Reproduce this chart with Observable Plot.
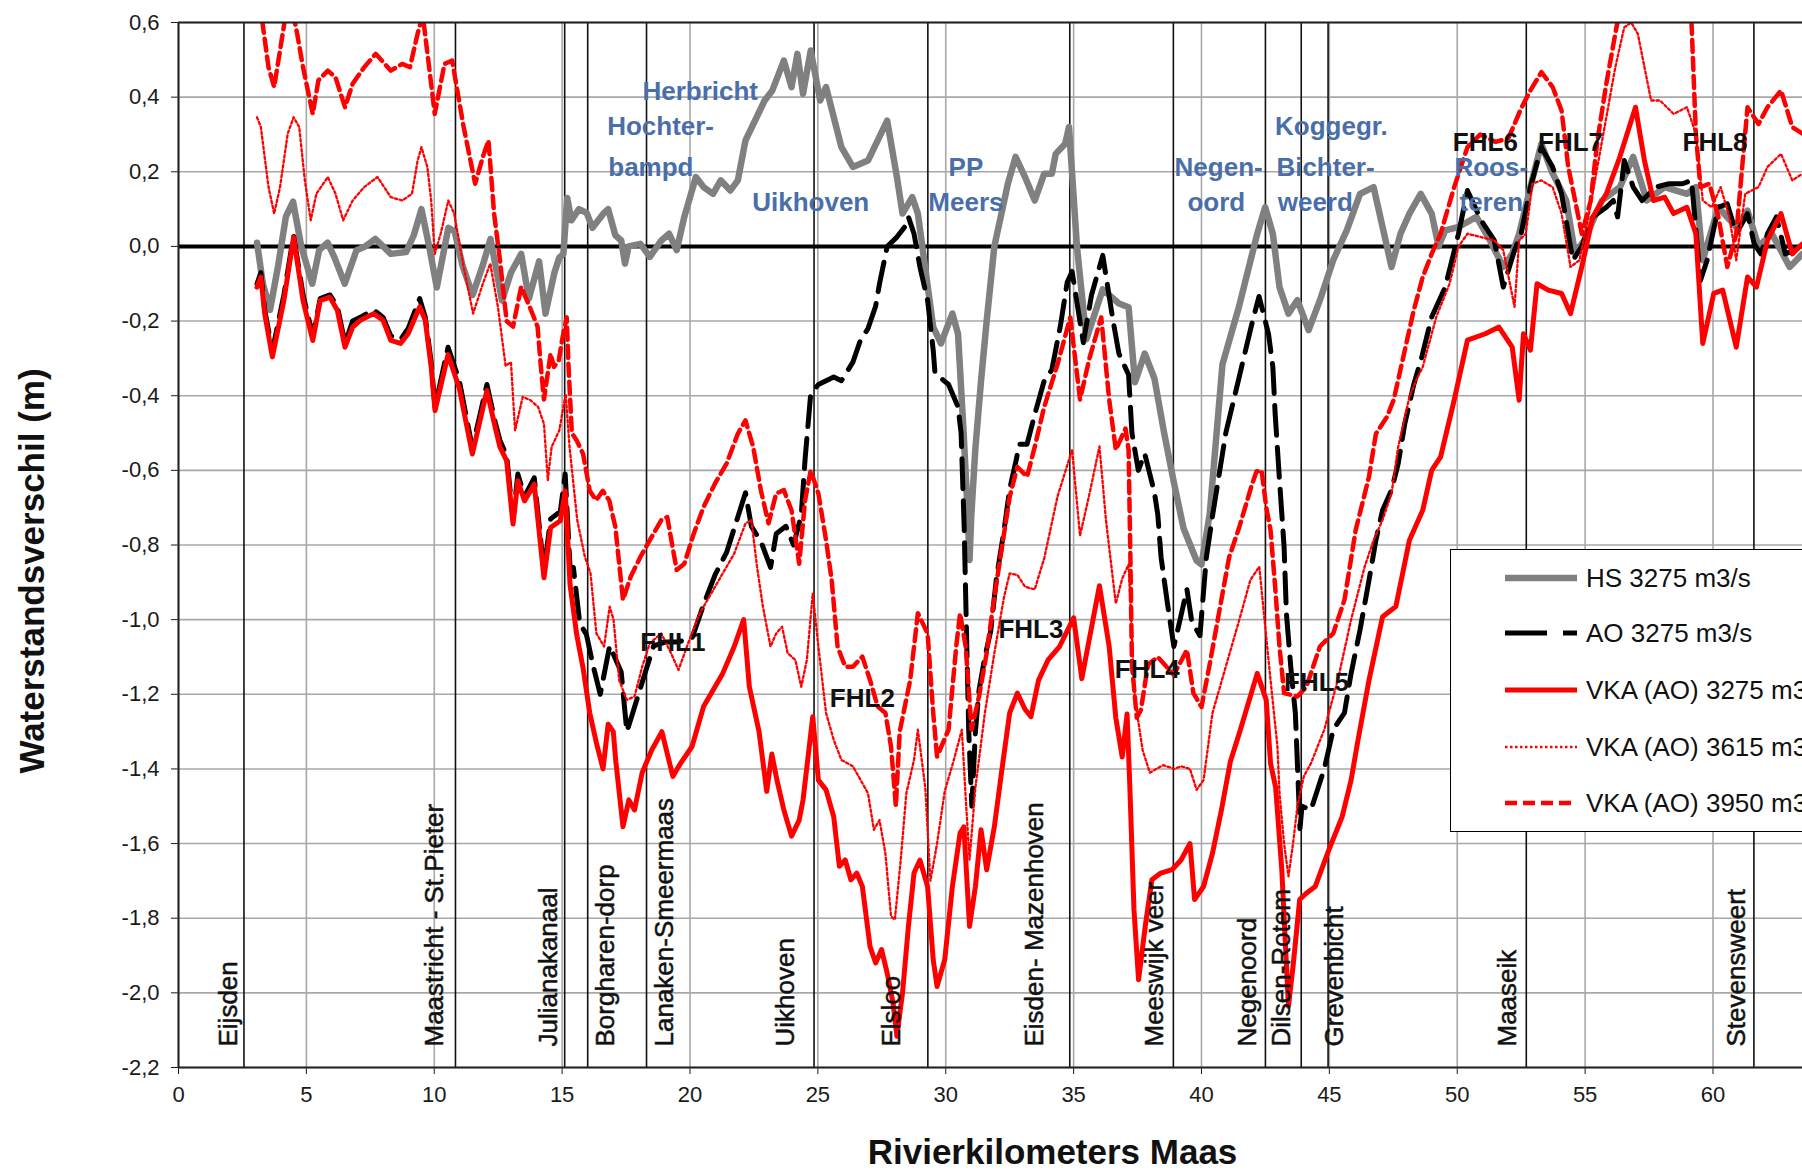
<!DOCTYPE html>
<html><head><meta charset="utf-8">
<script src="https://cdn.jsdelivr.net/npm/d3@7"></script>
<script src="https://cdn.jsdelivr.net/npm/@observablehq/plot@0.6"></script>
<style>
html,body{margin:0;padding:0;background:#fff;overflow:hidden;}
#wrap{position:relative;width:1802px;height:1170px;overflow:hidden;}
#legend{position:absolute;left:1450px;top:549px;width:420px;height:281px;border:1.5px solid #000;background:#fff;font-family:"Liberation Sans",Arial,sans-serif;font-size:26px;color:#111;}
.row{position:absolute;left:0;height:40px;display:flex;align-items:center;white-space:nowrap;}
.row svg{margin-left:52px;margin-right:7px;}
</style></head><body><div id="wrap"><div id="legend"></div></div>
<script>
// ---------- DATA ----------
const seriesNames = ["HS 3275 m3/s", "AO 3275 m3/s", "VKA (AO) 3275 m3/s", "VKA (AO) 3615 m3/s", "VKA (AO) 3950 m3/s"];

const hsKm = [3.07,3.3,3.58,3.9,4.2,4.48,4.8,5.23,5.5,5.83,6.1,6.5,6.96,7.3,7.7,8.0,8.3,8.9,9.2,9.5,9.8,10.1,10.55,10.8,11.1,11.5,11.9,12.2,12.65,13.0,13.4,13.7,14.1,14.35,14.7,14.89,15.05,15.2,15.36,15.66,15.96,16.19,16.64,16.8,17.08,17.31,17.46,17.6,18.06,18.43,18.88,19.18,19.48,19.78,20.23,20.53,20.9,21.2,21.58,21.87,22.17,22.92,23.22,23.67,23.97,24.2,24.42,24.72,25.09,25.32,25.92,26.37,26.96,27.34,27.71,28.09,28.31,28.69,28.91,29.51,29.81,30.26,30.48,30.7,30.86,30.93,31.0,31.16,31.38,31.6,31.9,32.43,32.73,33.1,33.48,33.85,34.15,34.3,34.67,34.82,35.13,35.5,36.14,36.77,37.15,37.4,37.78,38.16,38.54,38.92,39.3,39.81,40.0,40.32,40.82,41.46,42.18,42.49,42.79,43.05,43.4,43.75,44.19,44.63,45.15,45.68,46.2,46.73,47.08,47.43,47.78,48.13,48.57,49.0,49.27,49.53,50.05,50.75,51.28,51.8,52.15,52.42,52.86,53.29,53.7,54.26,54.61,54.96,55.66,56.36,56.88,57.41,58.11,58.98,59.33,59.6,60.21,60.91,61.35,61.78,62.3,63.0,63.5];
const hsVal = [0.01,-0.10,-0.17,-0.05,0.08,0.12,0.0,-0.10,-0.01,0.01,-0.03,-0.10,-0.01,0.0,0.02,0.0,-0.02,-0.015,0.03,0.10,0.0,-0.11,0.05,0.04,-0.05,-0.13,-0.05,0.02,-0.145,-0.07,-0.02,-0.14,-0.04,-0.18,-0.07,-0.03,-0.02,0.13,0.07,0.10,0.09,0.05,0.09,0.10,0.03,0.016,-0.046,0.0,0.007,-0.028,0.016,0.034,-0.01,0.08,0.186,0.159,0.141,0.177,0.15,0.177,0.284,0.391,0.418,0.498,0.427,0.516,0.409,0.525,0.391,0.427,0.266,0.213,0.23,0.284,0.337,0.186,0.088,0.132,0.088,-0.216,-0.26,-0.18,-0.234,-0.5,-0.72,-0.84,-0.72,-0.54,-0.36,-0.2,0.0,0.168,0.24,0.186,0.123,0.195,0.195,0.248,0.275,0.32,0.0,-0.249,-0.115,-0.153,-0.163,-0.364,-0.287,-0.354,-0.5,-0.632,-0.756,-0.842,-0.852,-0.718,-0.316,-0.163,0.034,0.105,0.034,-0.109,-0.18,-0.144,-0.224,-0.144,-0.037,0.043,0.141,0.159,0.052,-0.055,0.034,0.088,0.141,0.088,0.0,0.043,0.052,0.079,0.016,-0.055,-0.02,0.034,0.159,0.275,0.2,0.123,-0.02,0.016,0.123,0.159,0.24,0.123,0.159,0.141,0.159,-0.037,0.105,0.052,0.096,0.0,0.034,-0.055,-0.02];

const aoKm = [3.07,3.22,3.37,3.67,4.12,4.5,4.87,5.25,5.54,5.92,6.21,6.51,6.81,7.11,7.63,8.0,8.3,8.68,8.98,9.43,9.65,9.88,10.03,10.54,10.98,11.49,12.06,12.38,12.57,12.83,13.08,13.27,13.53,13.91,14.29,14.55,14.93,15.12,15.31,15.44,15.69,15.95,16.2,16.49,16.86,17.31,17.53,17.76,18.28,18.58,19.03,19.5,20.08,20.53,20.98,21.43,21.87,22.17,22.4,22.77,23.15,23.37,23.75,24.05,24.35,24.5,24.72,25.02,25.62,25.92,26.37,26.67,26.96,27.26,27.41,27.71,28.09,28.39,28.54,28.76,28.99,29.29,29.51,29.58,30.11,30.48,30.6,30.72,30.8,30.9,31.02,31.16,31.3,31.53,31.76,31.98,32.28,32.5,32.73,32.88,33.18,33.48,33.85,34.15,34.49,34.75,34.94,35.38,35.7,36.14,36.52,36.77,37.15,37.28,37.53,37.78,38.16,38.29,38.42,38.67,38.92,39.18,39.43,39.62,39.94,40.19,40.44,40.95,41.46,41.96,42.25,42.62,42.79,42.88,43.05,43.23,43.32,43.49,43.67,43.75,43.85,43.93,44.28,44.8,45.15,45.59,45.85,46.2,46.55,46.82,47.08,47.43,47.69,47.95,48.3,48.6,49.0,49.53,50.05,50.4,50.93,51.45,51.8,52.24,52.5,52.86,53.29,53.73,54.08,54.52,54.87,55.3,55.83,56.1,56.27,56.53,56.88,57.23,57.76,58.28,58.81,59.16,59.51,59.77,60.21,60.56,60.91,61.35,61.61,61.87,62.13,62.48,62.83,63.5];
const aoVal = [-0.10,-0.07,-0.17,-0.28,-0.13,0.03,-0.13,-0.24,-0.14,-0.13,-0.16,-0.26,-0.20,-0.19,-0.17,-0.19,-0.24,-0.25,-0.22,-0.14,-0.19,-0.31,-0.43,-0.27,-0.36,-0.54,-0.37,-0.47,-0.52,-0.56,-0.73,-0.61,-0.67,-0.62,-0.87,-0.73,-0.71,-0.61,-0.86,-0.86,-1.01,-1.04,-1.12,-1.20,-1.07,-1.14,-1.30,-1.25,-1.135,-1.07,-1.06,-1.06,-1.05,-0.96,-0.88,-0.82,-0.725,-0.66,-0.75,-0.79,-0.86,-0.77,-0.75,-0.80,-0.72,-0.57,-0.395,-0.37,-0.35,-0.36,-0.31,-0.25,-0.22,-0.16,-0.10,0.0,0.025,0.052,0.079,0.034,-0.055,-0.144,-0.278,-0.34,-0.37,-0.43,-0.5,-0.75,-1.0,-1.3,-1.5,-1.3,-1.19,-1.10,-1.03,-0.89,-0.76,-0.65,-0.58,-0.53,-0.53,-0.45,-0.36,-0.33,-0.21,-0.096,-0.067,-0.258,-0.13,-0.024,-0.19,-0.287,-0.344,-0.5,-0.6,-0.555,-0.66,-0.718,-0.833,-0.957,-1.072,-0.995,-0.919,-1.005,-1.043,-0.833,-0.718,-0.5,-0.354,-0.21,-0.134,-0.234,-0.323,-0.448,-0.626,-0.805,-0.983,-1.126,-1.25,-1.385,-1.56,-1.50,-1.51,-1.40,-1.295,-1.25,-1.144,-1.027,-0.894,-0.787,-0.707,-0.653,-0.582,-0.475,-0.37,-0.30,-0.189,-0.109,0.034,0.15,0.07,0.016,-0.109,-0.01,0.034,0.159,0.266,0.213,0.141,-0.037,0.0,0.079,0.105,0.123,0.079,0.23,0.159,0.123,0.159,0.168,0.168,0.177,-0.091,-0.037,0.105,0.114,0.034,0.088,0.007,-0.02,0.034,0.079,-0.02,0.0];

const vka3275Km = [3.07,3.22,3.37,3.67,4.12,4.5,4.87,5.25,5.54,5.92,6.21,6.51,6.81,7.11,7.63,8.0,8.3,8.68,8.98,9.43,9.65,9.88,10.03,10.54,10.98,11.49,12.06,12.38,12.57,12.83,13.08,13.27,13.53,13.91,14.29,14.55,14.93,15.12,15.31,15.57,15.82,16.08,16.34,16.6,16.8,17.0,17.1,17.38,17.61,17.83,18.13,18.5,18.9,19.33,19.63,20.08,20.53,21.28,21.73,22.1,22.32,22.7,23.0,23.2,23.4,23.67,23.97,24.27,24.42,24.8,25.02,25.32,25.62,25.84,26.07,26.29,26.52,26.74,27.04,27.26,27.49,27.71,27.94,28.09,28.31,28.54,28.76,28.99,29.29,29.51,29.66,29.96,30.26,30.56,30.71,30.93,31.16,31.38,31.6,31.9,32.2,32.5,32.8,33.1,33.33,33.63,34.0,34.45,35.0,35.32,36.01,36.39,36.65,36.9,37.09,37.2,37.36,37.54,37.8,38.06,38.41,38.85,39.2,39.55,39.73,40.08,40.43,40.78,41.13,41.5,42.18,42.53,42.7,42.9,43.14,43.4,43.58,43.84,44.1,44.45,44.98,45.5,45.85,46.1,46.55,47.08,47.6,48.13,48.65,49.0,49.35,49.88,50.4,51.1,51.63,52.15,52.42,52.59,52.86,53.12,53.56,54.08,54.43,54.87,55.3,55.83,56.36,56.97,57.32,57.67,58.11,58.46,58.98,59.33,59.6,60.03,60.38,60.91,61.35,61.7,62.13,62.66,63.1,63.5];
const vka3275Val = [-0.109,-0.082,-0.18,-0.296,-0.145,0.025,-0.145,-0.252,-0.145,-0.136,-0.171,-0.27,-0.216,-0.198,-0.18,-0.198,-0.252,-0.26,-0.234,-0.162,-0.198,-0.323,-0.44,-0.29,-0.38,-0.556,-0.386,-0.484,-0.538,-0.574,-0.744,-0.628,-0.682,-0.637,-0.888,-0.753,-0.735,-0.655,-0.906,-1.04,-1.13,-1.25,-1.33,-1.40,-1.28,-1.30,-1.38,-1.555,-1.483,-1.51,-1.41,-1.35,-1.30,-1.42,-1.385,-1.34,-1.233,-1.144,-1.072,-1.0,-1.18,-1.30,-1.46,-1.36,-1.43,-1.51,-1.58,-1.537,-1.483,-1.26,-1.43,-1.456,-1.528,-1.661,-1.644,-1.697,-1.679,-1.715,-1.876,-1.92,-1.884,-1.947,-2.027,-2.116,-2.0,-1.822,-1.679,-1.644,-1.715,-1.911,-1.983,-1.911,-1.715,-1.572,-1.555,-1.822,-1.715,-1.563,-1.67,-1.555,-1.40,-1.25,-1.197,-1.24,-1.26,-1.162,-1.108,-1.072,-0.995,-1.158,-0.909,-1.072,-1.263,-1.368,-1.253,-1.45,-1.777,-1.965,-1.822,-1.697,-1.679,-1.67,-1.644,-1.60,-1.75,-1.715,-1.626,-1.51,-1.38,-1.30,-1.144,-1.215,-1.385,-1.45,-1.67,-2.036,-1.929,-1.75,-1.733,-1.715,-1.617,-1.528,-1.43,-1.33,-1.162,-0.992,-0.965,-0.787,-0.707,-0.60,-0.564,-0.412,-0.251,-0.234,-0.216,-0.27,-0.412,-0.234,-0.278,-0.10,-0.117,-0.126,-0.18,-0.055,0.079,0.141,0.24,0.373,0.23,0.123,0.132,0.088,0.105,0.034,-0.26,-0.126,-0.117,-0.27,-0.082,-0.109,0.016,0.088,-0.02,0.007];

const vka3615Km = [3.07,3.22,3.52,3.74,3.97,4.27,4.5,4.72,4.94,5.17,5.39,5.84,6.14,6.44,6.81,7.26,7.78,8.3,8.75,9.13,9.35,9.5,9.73,9.88,10.02,10.25,10.55,10.78,11.15,11.52,11.9,12.19,12.49,12.79,13.0,13.16,13.46,13.76,14.06,14.29,14.44,14.59,14.89,15.14,15.29,15.59,15.89,16.11,16.34,16.64,16.86,17.01,17.23,17.53,17.83,18.13,18.43,18.88,19.26,19.55,19.93,20.38,20.83,21.28,21.73,22.17,22.4,22.62,22.85,23.15,23.37,23.6,23.82,24.12,24.35,24.57,24.8,25.02,25.32,25.62,25.92,26.37,26.96,27.19,27.41,27.64,27.86,28.01,28.24,28.46,28.76,28.91,29.2,29.4,29.66,29.96,30.3,30.63,30.8,30.93,31.16,31.53,31.9,32.28,32.5,32.8,33.1,33.48,33.86,34.37,34.94,35.25,35.63,36.01,36.27,36.65,36.9,37.15,37.4,37.7,37.98,38.5,38.94,39.2,39.55,39.81,40.08,40.43,40.95,41.48,41.91,42.26,42.44,42.7,42.97,43.05,43.23,43.4,43.58,43.75,44.0,44.28,44.8,45.33,45.85,46.38,46.73,47.08,47.43,47.69,48.13,48.39,48.65,49.18,49.7,50.05,50.4,50.93,51.45,51.8,52.24,52.42,52.68,52.94,53.29,53.73,54.08,54.43,54.78,55.13,55.48,55.83,56.18,56.53,56.8,57.06,57.58,57.93,58.46,58.98,59.33,59.6,59.95,60.3,60.64,60.91,61.26,61.78,62.13,62.66,63.1,63.5];
const vka3615Val = [0.346,0.32,0.159,0.088,0.159,0.302,0.346,0.32,0.177,0.07,0.141,0.186,0.141,0.07,0.123,0.159,0.186,0.132,0.123,0.141,0.23,0.266,0.213,0.123,-0.02,0.034,0.123,0.088,-0.055,-0.18,-0.10,-0.046,-0.162,-0.32,-0.31,-0.493,-0.403,-0.412,-0.43,-0.475,-0.626,-0.537,-0.493,-0.395,-0.537,-0.733,-0.832,-0.876,-1.037,-1.072,-0.965,-1.0,-1.162,-1.215,-1.206,-1.126,-1.063,-1.037,-1.09,-1.135,-1.063,-0.983,-0.93,-0.876,-0.823,-0.742,-0.733,-0.858,-0.965,-1.072,-1.037,-1.019,-1.09,-1.108,-1.18,-1.108,-0.93,-1.072,-1.25,-1.322,-1.376,-1.393,-1.465,-1.563,-1.537,-1.626,-1.795,-1.804,-1.644,-1.465,-1.376,-1.295,-1.45,-1.70,-1.60,-1.46,-1.38,-1.295,-1.50,-1.643,-1.45,-1.25,-1.09,-0.939,-0.876,-0.88,-0.912,-0.919,-0.833,-0.67,-0.545,-0.775,-0.66,-0.536,-0.737,-0.957,-0.89,-0.852,-1.215,-1.35,-1.41,-1.39,-1.40,-1.393,-1.40,-1.456,-1.43,-1.25,-1.126,-1.0,-0.894,-0.858,-0.983,-1.162,-1.34,-1.465,-1.60,-1.688,-1.60,-1.50,-1.42,-1.385,-1.295,-1.162,-1.0,-0.858,-0.787,-0.733,-0.662,-0.537,-0.403,-0.359,-0.323,-0.189,-0.10,0.0,0.034,0.025,0.016,-0.01,-0.162,0.016,0.034,0.168,0.177,0.159,0.088,-0.055,-0.037,0.079,0.213,0.346,0.48,0.587,0.60,0.57,0.391,0.391,0.355,0.373,0.302,0.123,0.105,0.159,0.079,-0.037,0.141,0.159,0.213,0.248,0.177,0.195];

const vka3950Km = [3.1,3.29,3.52,3.74,3.97,4.19,4.4,4.64,4.87,5.25,5.47,5.84,6.14,6.51,6.81,7.26,7.71,8.3,8.75,9.05,9.35,9.55,9.8,10.02,10.4,10.7,11.15,11.6,11.9,12.12,12.34,12.57,12.83,13.08,13.4,13.78,14.04,14.17,14.29,14.55,14.68,14.87,15.0,15.18,15.25,15.38,15.57,15.82,16.08,16.33,16.59,16.84,17.08,17.38,17.68,18.06,18.43,18.88,19.11,19.48,19.78,20.15,20.53,20.98,21.43,21.87,22.17,22.47,22.77,23.07,23.37,23.67,23.97,24.27,24.5,24.72,25.02,25.32,25.54,25.77,26.07,26.37,26.74,27.04,27.34,27.64,27.86,28.05,28.2,28.61,28.91,29.29,29.51,29.66,30.11,30.41,30.56,30.78,31.01,31.3,31.6,31.9,32.2,32.5,32.8,33.18,33.48,33.85,34.37,34.87,35.25,35.63,36.08,36.39,36.65,37.03,37.15,37.22,37.28,37.47,37.63,37.91,38.29,38.92,39.43,39.68,40.0,40.32,40.7,41.08,41.46,41.96,42.15,42.35,42.53,42.7,42.88,43.05,43.23,43.75,44.1,44.63,45.15,45.59,46.03,46.55,46.82,47.25,47.52,47.95,48.3,48.65,49.0,49.35,49.88,50.4,50.9,51.5,52.0,52.5,52.86,53.29,53.73,54.08,54.34,54.61,54.87,55.22,55.48,55.83,56.18,56.4,57.0,58.0,59.0,59.16,59.33,59.51,59.86,60.21,60.56,60.91,61.35,61.78,62.13,62.66,63.1,63.5];
const vka3950Val = [0.70,0.596,0.48,0.427,0.525,0.62,0.65,0.57,0.48,0.355,0.445,0.471,0.453,0.373,0.436,0.48,0.516,0.471,0.489,0.48,0.57,0.62,0.48,0.355,0.489,0.498,0.32,0.168,0.24,0.284,0.088,-0.037,-0.2,-0.215,-0.108,-0.17,-0.215,-0.323,-0.41,-0.287,-0.323,-0.305,-0.25,-0.19,-0.32,-0.5,-0.52,-0.556,-0.655,-0.68,-0.655,-0.68,-0.751,-0.947,-0.885,-0.832,-0.787,-0.733,-0.725,-0.867,-0.85,-0.769,-0.698,-0.635,-0.582,-0.502,-0.466,-0.537,-0.653,-0.742,-0.662,-0.653,-0.707,-0.85,-0.68,-0.60,-0.662,-0.787,-0.894,-1.072,-1.126,-1.126,-1.099,-1.162,-1.233,-1.25,-1.34,-1.50,-1.30,-1.162,-0.983,-1.037,-1.25,-1.367,-1.295,-1.072,-0.983,-1.072,-1.295,-1.206,-1.09,-0.939,-0.805,-0.671,-0.591,-0.617,-0.537,-0.43,-0.316,-0.19,-0.41,-0.297,-0.19,-0.41,-0.545,-0.488,-0.545,-0.833,-1.12,-1.263,-1.242,-1.12,-1.1,-1.148,-1.081,-1.196,-1.234,-1.12,-0.976,-0.833,-0.756,-0.641,-0.603,-0.60,-0.698,-0.76,-0.912,-1.072,-1.197,-1.206,-1.18,-1.072,-1.037,-0.947,-0.76,-0.617,-0.502,-0.457,-0.41,-0.278,-0.171,-0.082,-0.02,0.034,0.159,0.266,0.30,0.28,0.29,0.37,0.418,0.467,0.427,0.364,0.213,0.123,0.034,0.123,0.284,0.436,0.57,0.65,0.75,0.75,0.70,0.60,0.302,0.159,0.168,0.079,-0.055,0.034,0.373,0.328,0.373,0.418,0.32,0.302];

// location lines and labels
const locLineKm = [2.56,10.83,15.1,16.0,18.3,24.85,29.3,34.85,38.9,42.5,43.9,44.95,52.7,61.6];
const locNames = ["Eijsden","Maastricht - St.Pieter","Julianakanaal","Borgharen-dorp","Lanaken-Smeermaas","Uikhoven","Elsloo","Eisden- Mazenhoven","Meeswijk veer","Negenoord","Dilsen-Rotem","Grevenbicht","Maaseik","Stevensweert"];
const locLabelKm = [1.98,10.02,14.47,16.72,19.0,23.73,27.87,33.48,38.16,41.8,43.15,45.2,51.96,60.94];

// blue site labels
const siteLabels = ["Herbricht","Hochter-","bampd","Uikhoven","PP","Meers","Negen-","oord","Koggegr.","Bichter-","weerd","Roos-","teren"];
const siteKm = [20.4,18.85,18.47,24.72,30.79,30.79,40.67,40.58,45.08,44.85,44.45,51.33,51.33];
const siteVal = [0.415,0.32,0.212,0.117,0.212,0.117,0.212,0.117,0.32,0.212,0.117,0.212,0.117];

// FHL labels
const fhlLabels = ["FHL1","FHL2","FHL3","FHL4","FHL5","FHL6","FHL7","FHL8"];
const fhlKm = [19.33,26.74,33.33,37.88,44.5,51.1,54.43,60.08];
const fhlVal = [-1.063,-1.211,-1.028,-1.135,-1.17,0.279,0.279,0.279];

const xTicks = [0,5,10,15,20,25,30,35,40,45,50,55,60];
const yTicks = [-2.2,-2.0,-1.8,-1.6,-1.4,-1.2,-1.0,-0.8,-0.6,-0.4,-0.2,0,0.2,0.4,0.6];

// ---------- BUILD ----------
const rows = (km, val) => km.map((k, i) => ({km: k, v: val[i]}));
const styles = [
  {stroke: "#808080", strokeWidth: 6.5},
  {stroke: "#000000", strokeWidth: 5, strokeDasharray: "30,12"},
  {stroke: "#ff0000", strokeWidth: 5},
  {stroke: "#ff0000", strokeWidth: 2.3, strokeDasharray: "2.5,2.5"},
  {stroke: "#ff0000", strokeWidth: 4.5, strokeDasharray: "12,6"}
];
const seriesData = [rows(hsKm, hsVal), rows(aoKm, aoVal), rows(vka3275Km, vka3275Val), rows(vka3615Km, vka3615Val), rows(vka3950Km, vka3950Val)];

const fmtY = d => (Math.abs(d) < 1e-9 ? 0 : d).toFixed(1).replace(".", ",");
const font = "'Liberation Sans', Arial, sans-serif";

const plot = Plot.plot({
  width: 1802,
  height: 1170,
  marginLeft: 178,
  marginRight: 0,
  marginTop: 22,
  marginBottom: 103,
  style: {fontFamily: font, fontSize: "22px", color: "#1a1a1a", background: "#fff", overflow: "visible"},
  x: {domain: [0, 63.5], ticks: xTicks, tickFormat: d => String(d), tickSize: 7, tickPadding: 12, label: null},
  y: {domain: [-2.2, 0.6], ticks: yTicks, tickFormat: fmtY, tickSize: 7, tickPadding: 12, label: null},
  marks: [
    Plot.ruleX(xTicks, {stroke: "#a8a8a8", strokeWidth: 1.6}),
    Plot.ruleY(yTicks, {stroke: "#a8a8a8", strokeWidth: 1.6}),
    Plot.ruleX(locLineKm, {stroke: "#111", strokeWidth: 1.6}),
    Plot.ruleY([0], {stroke: "#000", strokeWidth: 4}),
    ...seriesData.map((d, i) => Plot.line(d, {x: "km", y: "v", clip: true, strokeLinejoin: "round", ...styles[i]})),
    Plot.ruleY([0.6], {stroke: "#222", strokeWidth: 2}),
    Plot.ruleY([-2.2], {stroke: "#222", strokeWidth: 2}),
    Plot.ruleX([0], {stroke: "#222", strokeWidth: 2}),
    Plot.text(locNames.map((n, i) => ({n, km: locLabelKm[i]})), {
      x: "km", text: "n", frameAnchor: "bottom", rotate: -90, textAnchor: "start", lineAnchor: "middle",
      dy: -21, fontSize: 26, fill: "#111", stroke: "#111", strokeWidth: 0.5, fontFamily: font
    }),
    Plot.text(siteLabels.map((n, i) => ({n, km: siteKm[i], v: siteVal[i]})), {
      x: "km", y: "v", text: "n", fontSize: 26, fontWeight: "bold", fill: "#4a6ea9", fontFamily: font
    }),
    Plot.text(fhlLabels.map((n, i) => ({n, km: fhlKm[i], v: fhlVal[i]})), {
      x: "km", y: "v", text: "n", fontSize: 26, fontWeight: "bold", fill: "#111", fontFamily: font
    }),
    Plot.text(["Waterstandsverschil (m)"], {frameAnchor: "left", textAnchor: "middle", dx: -146, dy: 26, rotate: -90, fontSize: 35, fontWeight: "bold", fill: "#111", fontFamily: font}),
    Plot.text(["Rivierkilometers Maas"], {frameAnchor: "bottom", textAnchor: "middle", dx: 62, dy: 96, fontSize: 35, fontWeight: "bold", fill: "#111", fontFamily: font})
  ]
});
document.getElementById("wrap").prepend(plot);

// ---------- LEGEND ----------
const legend = document.getElementById("legend");
const rowTops = [8, 63, 120, 177, 233];
seriesNames.forEach((name, i) => {
  const r = document.createElement("div");
  r.className = "row";
  r.style.top = rowTops[i] + "px";
  const s = styles[i];
  r.innerHTML = `<svg width="76" height="20"><line x1="2" y1="10" x2="74" y2="10" stroke="${s.stroke}" stroke-width="${s.strokeWidth}" ${s.strokeDasharray ? `stroke-dasharray="${i===1?'42,16':s.strokeDasharray}"` : ""}/></svg><span>${name}</span>`;
  legend.appendChild(r);
});
</script></body></html>
